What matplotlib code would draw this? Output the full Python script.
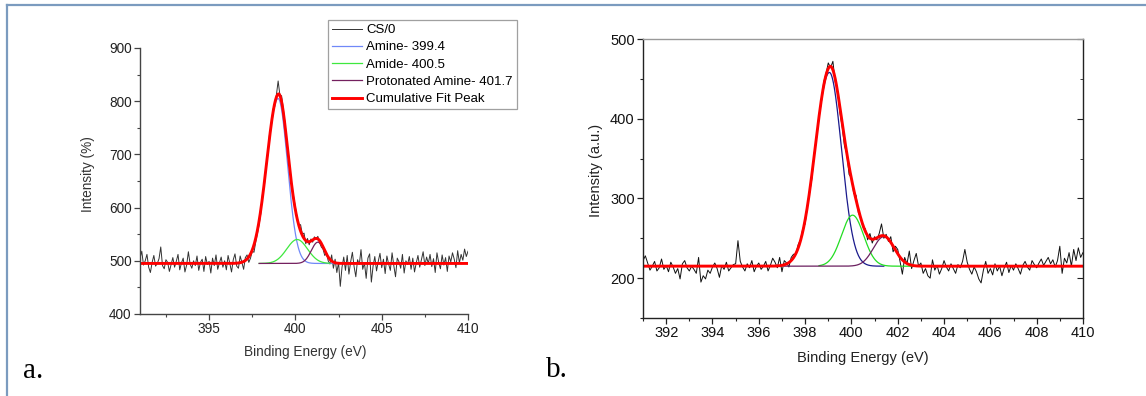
import numpy as np
import matplotlib.pyplot as plt
from matplotlib.lines import Line2D
from matplotlib.ticker import MultipleLocator

plt.rcParams['font.family'] = ['Liberation Sans', 'DejaVu Sans']

# raw spectra, 0.1 eV steps from 391 to 410 eV
energy = np.round(np.arange(391.0, 410.05, 0.1), 1)

cs0_counts = [
    505, 518, 492, 500, 512, 488, 478, 497, 510, 490,
    495, 504, 526, 491, 485, 502, 497, 480, 493, 506,
    488, 499, 512, 483, 496, 505, 479, 492, 517, 494,
    486, 500, 491, 509, 482, 497, 503, 480, 508, 493,
    499, 477, 505, 491, 511, 484, 496, 507, 488, 500,
    483, 510, 495, 479, 502, 513, 490, 486, 509, 497,
    484, 506, 511, 497, 505, 518, 516, 535, 552, 568,
    590, 628, 640, 678, 700, 738, 752, 785, 790, 812,
    838, 812, 810, 785, 758, 726, 700, 668, 640, 620,
    600, 582, 566, 568, 550, 552, 532, 542, 530, 541,
    535, 545, 540, 546, 534, 526, 522, 510, 515, 500,
    494, 511, 486, 503, 478, 497, 452, 488, 507, 482,
    510, 475, 498, 516, 489, 470, 502, 493, 521, 484,
    496, 467, 505, 513, 460, 490, 508, 481, 499, 514,
    487, 503, 476, 509, 494, 482, 515, 491, 470, 505,
    498, 486, 512, 477, 500, 493, 508, 484, 505, 479,
    496, 510, 488, 502, 517, 491, 507, 495, 512, 489,
    504, 478, 515, 497, 485, 511, 492, 506, 480, 509,
    498, 515, 503, 487, 519, 496, 512, 501, 522, 508,
    518,
]

csb_counts = [
    222, 228, 219, 210, 215, 221, 209, 213, 224, 211,
    216, 208, 220, 214, 206, 212, 199, 218, 222, 213,
    209, 215, 211, 206, 226, 195, 203, 199, 210, 206,
    214, 219, 212, 201, 216, 211, 220, 209, 213, 217,
    218, 247, 221, 214, 209, 218, 213, 222, 208, 215,
    219, 211, 215, 221, 209, 216, 225, 220, 213, 226,
    208, 222, 219, 214, 226, 230, 230, 242, 248, 262,
    268, 290, 308, 326, 358, 378, 405, 420, 446, 456,
    470, 464, 472, 446, 436, 408, 390, 366, 356, 330,
    326, 306, 304, 282, 276, 264, 262, 248, 256, 244,
    252, 248, 256, 268, 250, 255, 246, 252, 233, 240,
    236, 221, 205, 226, 218, 234, 212, 222, 231, 215,
    219, 206, 212, 203, 200, 223, 210, 216, 205, 212,
    222, 214, 209, 218, 212, 206, 217, 213, 221, 236,
    220, 211, 205, 214, 208, 199, 194, 210, 221, 206,
    212, 204, 218, 209, 215, 203, 213, 220, 207, 216,
    210, 218, 212, 205, 216, 221, 214, 210, 222, 217,
    213, 219, 224, 216, 221, 226, 218, 223, 214, 222,
    240, 206, 225, 219, 232, 215, 236, 222, 238, 226,
    232,
]

# fitted peak components: centre, height above background, sigma (low / high side), drawn range
a_background = 495
a_names = ["Amine- 399.4", "Amide- 400.5", "Protonated Amine- 401.7"]
a_centres = [399.0, 400.1, 401.3]
a_heights = [310, 45, 40]
a_sig_lo = [0.67, 0.6, 0.38]
a_sig_hi = [0.54, 0.6, 0.38]
a_ranges = [(396.5, 402.3), (397.9, 402.0), (397.9, 402.0)]
a_colors = ["#7088f8", "#3ee83e", "#74205f"]

b_background = 215
b_centres = [399.05, 400.05, 401.4]
b_heights = [243, 64, 37]
b_sig_lo = [0.62, 0.478, 0.455]
b_sig_hi = [0.52, 0.478, 0.455]
b_ranges = [(397.2, 401.4), (398.6, 403.0), (397.1, 402.6)]
b_colors = ["#1a1a8c", "#22dd22", "#6b1f5f"]


def peak(x, c, h, s_lo, s_hi):
    s = np.where(x < c, s_lo, s_hi)
    return h * np.exp(-0.5 * ((x - c) / s) ** 2)


fig = plt.figure(figsize=(11.46, 3.96), dpi=100)

# page border of the document screenshot
fig.add_artist(Line2D([7 / 1146, 1], [1 - 5 / 396] * 2, color="#7b9bbf", lw=1.6))
fig.add_artist(Line2D([7 / 1146] * 2, [0, 1 - 5 / 396], color="#7b9bbf", lw=1.6))

xf = np.linspace(391, 410, 1500)

######## panel a
ax1 = fig.add_axes([0.1222, 0.2071, 0.2862, 0.6717])
ax1.plot(energy, cs0_counts, color="#333333", lw=0.7, label="CS/0")
for c, h, sl, sh, r, col, name in zip(a_centres, a_heights, a_sig_lo, a_sig_hi,
                                      a_ranges, a_colors, a_names):
    xx = np.linspace(r[0], r[1], 300)
    ax1.plot(xx, a_background + peak(xx, c, h, sl, sh), color=col, lw=0.9, label=name)
total = a_background + sum(peak(xf, *p) for p in zip(a_centres, a_heights, a_sig_lo, a_sig_hi))
ax1.plot(xf, total, color="#ff0000", lw=2.1, label="Cumulative Fit Peak")

ax1.set_xlim(391, 410)
ax1.set_ylim(400, 900)
ax1.set_xticks([395, 400, 405, 410])
ax1.xaxis.set_minor_locator(MultipleLocator(2.5))
ax1.yaxis.set_major_locator(MultipleLocator(100))
ax1.yaxis.set_minor_locator(MultipleLocator(50))
ax1.spines[["top", "right"]].set_visible(False)
for sp in ["left", "bottom"]:
    ax1.spines[sp].set_color("#444444")
    ax1.spines[sp].set_linewidth(1.0)
ax1.tick_params(which="major", direction="out", length=4, width=0.9, color="#444444",
                labelsize=9.8, labelcolor="#222222", pad=2)
ax1.tick_params(which="minor", direction="out", length=2.5, width=0.8, color="#444444")

leg = ax1.legend(loc="upper left", bbox_to_anchor=(328 / 1146, 1 - 20 / 396),
                 bbox_transform=fig.transFigure, fontsize=9.5, frameon=True,
                 fancybox=False, borderpad=0.3, labelspacing=0.38, handlelength=2.3,
                 handletextpad=0.3, borderaxespad=0)
leg.get_frame().set_edgecolor("#888888")
leg.get_frame().set_linewidth(0.9)

fig.text(88 / 1146, 1 - 174 / 396, "Intensity (%)", rotation=90, ha="center", va="center",
         fontsize=9.8, color="#333333")
fig.text(305 / 1146, 1 - 352 / 396, "Binding Energy (eV)", ha="center", va="center",
         fontsize=9.8, color="#333333")

######## panel b
ax2 = fig.add_axes([0.5611, 0.197, 0.3839, 0.7045])
ax2.plot(energy, csb_counts, color="#111111", lw=0.7)
for c, h, sl, sh, r, col in zip(b_centres, b_heights, b_sig_lo, b_sig_hi, b_ranges, b_colors):
    xx = np.linspace(r[0], r[1], 300)
    ax2.plot(xx, b_background + peak(xx, c, h, sl, sh), color=col, lw=0.9)
total_b = b_background + sum(peak(xf, *p) for p in zip(b_centres, b_heights, b_sig_lo, b_sig_hi))
ax2.plot(xf, total_b, color="#ff0000", lw=2.1)

ax2.set_xlim(391, 410)
ax2.set_ylim(150, 500)
ax2.xaxis.set_major_locator(MultipleLocator(2))
ax2.xaxis.set_minor_locator(MultipleLocator(1))
ax2.yaxis.set_major_locator(MultipleLocator(100))
ax2.yaxis.set_minor_locator(MultipleLocator(50))
for sp in ax2.spines.values():
    sp.set_color("#222222")
    sp.set_linewidth(1.0)
ax2.spines["top"].set_color("#999999")
ax2.tick_params(which="major", direction="out", length=4, width=0.9, color="#222222",
                labelsize=10.5, labelcolor="#111111", pad=2)
ax2.tick_params(which="minor", direction="out", length=2.5, width=0.8, color="#222222")

right = ax2.secondary_yaxis("right")
right.set_yticks([200, 300, 400, 500])
right.yaxis.set_minor_locator(MultipleLocator(50))
right.tick_params(which="both", direction="in", labelright=False, color="#222222")
right.tick_params(which="major", length=4)
right.tick_params(which="minor", length=2.5)
right.spines["right"].set_visible(False)

fig.text(596 / 1146, 1 - 170 / 396, "Intensity (a.u.)", rotation=90, ha="center", va="center",
         fontsize=10.5, color="#222222")
fig.text(863 / 1146, 1 - 358 / 396, "Binding Energy (eV)", ha="center", va="center",
         fontsize=10.5, color="#222222")

# panel letters from the document
fig.text(23 / 1146, 1 - 378 / 396, "a.", family=["Liberation Serif", "DejaVu Serif"],
         fontsize=21, ha="left", va="baseline")
fig.text(546 / 1146, 1 - 377 / 396, "b.", family=["Liberation Serif", "DejaVu Serif"],
         fontsize=21, ha="left", va="baseline")

fig.savefig("out.png", dpi=100)
